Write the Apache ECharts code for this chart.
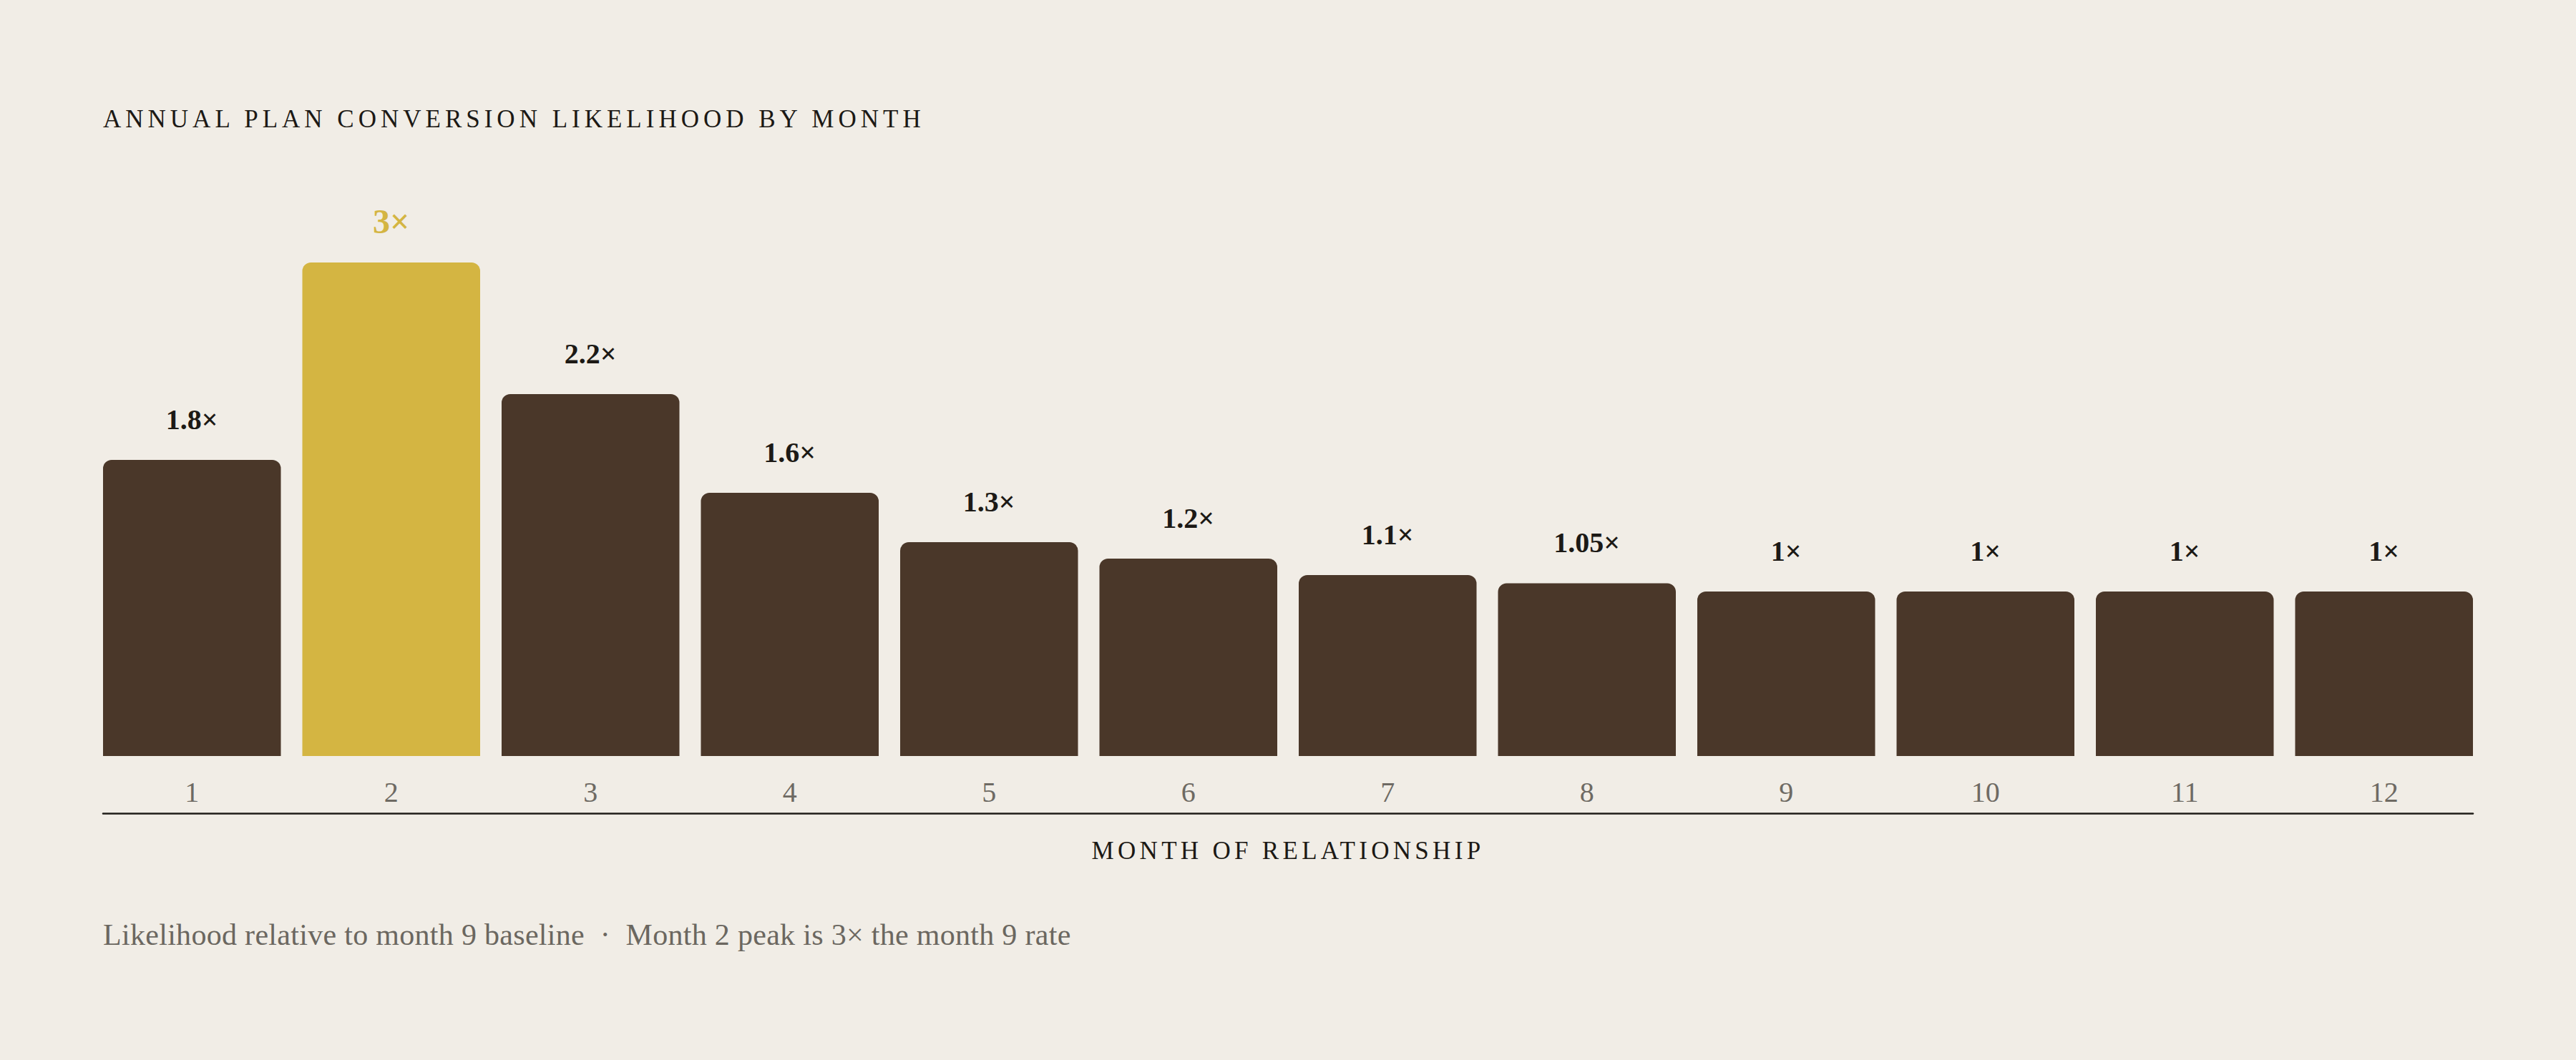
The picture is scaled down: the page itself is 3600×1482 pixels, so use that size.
<!DOCTYPE html>
<html>
<head>
<meta http-equiv="Content-Type" content="text/html; charset=utf8">
<title>Annual plan conversion likelihood</title>
<script src="https://cdn.jsdelivr.net/npm/echarts@6/dist/echarts.min.js"></script>
<style type="text/css">
html,body{
margin:0;
padding:0;
background:#f1ede6;
}
#main{
width:3600px;
height:1482px;
}
</style>
</head>
<body>
<div id="main"></div>
<script>
var months = ['1','2','3','4','5','6','7','8','9','10','11','12'];
var likelihood = [1.8, 3, 2.2, 1.6, 1.3, 1.2, 1.1, 1.05, 1, 1, 1, 1];
var titleText = 'ANNUAL PLAN CONVERSION LIKELIHOOD BY MONTH';
var axisName = 'MONTH OF RELATIONSHIP';
var noteText = 'Likelihood relative to month 9 baseline  \u00b7  Month 2 peak is 3\u00d7 the month 9 rate';

var serif = '"Liberation Serif", "DejaVu Serif", serif';
var dark = '#4a3729'; //普通柱子
var gold = '#d4b542'; //峰值柱子

var peak = likelihood.indexOf(Math.max.apply(null, likelihood));

var barData = likelihood.map(function(v, i){
	if(i !== peak) return v;
	return {
		value:v,
		itemStyle:{color:gold},
		label:{color:gold, fontSize:48, distance:34}
	};
});

var chart = echarts.init(document.getElementById('main'), null, {renderer:'svg'});

var option = {
	backgroundColor:'#f1ede6',
	animation:false,
	title:[{
		text:titleText,
		left:144,
		top:149,
		padding:0,
		textStyle:{color:'#1c1915', fontFamily:serif, fontWeight:'normal', fontSize:35}
	},{
		text:noteText,
		left:144,
		top:1286,
		padding:0,
		textStyle:{color:'#6b6760', fontFamily:serif, fontWeight:'normal', fontSize:42}
	}],
	grid:[
		{left:129, right:129, top:367, bottom:425},
		{left:144, right:144, top:1136, height:1} //只用来画底部的横线
	],
	xAxis:[{
		type:'category',
		gridIndex:0,
		data:months,
		axisLine:{show:false},
		axisTick:{show:false},
		axisLabel:{color:'#6e6a63', fontFamily:serif, fontSize:40, margin:30}
	},{
		type:'category',
		gridIndex:1,
		data:months,
		axisLine:{show:true, lineStyle:{color:'#1f1c18', width:2.5}},
		axisTick:{show:false},
		axisLabel:{show:false},
		name:axisName,
		nameLocation:'middle',
		nameGap:35,
		nameTextStyle:{color:'#1c1915', fontFamily:serif, fontSize:35}
	}],
	yAxis:[
		{type:'value', gridIndex:0, min:0, max:3, show:false},
		{type:'value', gridIndex:1, show:false}
	],
	series:[{
		type:'bar',
		xAxisIndex:0,
		yAxisIndex:0,
		data:barData,
		barCategoryGap:'10.77%',
		itemStyle:{color:dark, borderRadius:[12,12,0,0]},
		label:{
			show:true,
			position:'top',
			distance:37,
			color:'#1c1915',
			fontFamily:serif,
			fontWeight:'bold',
			fontSize:40,
			formatter:function(p){ return p.value + '\u00d7'; }
		}
	}]
};

// 标题和轴名需要字间距，svg 渲染后再补上
chart.on('finished', function(){
	var texts = document.querySelectorAll('#main svg text');
	for(var i = 0; i < texts.length; i++){
		var t = texts[i].textContent;
		if(t === titleText){
			texts[i].setAttribute('letter-spacing', '6px');
		}else if(t === axisName){
			texts[i].setAttribute('letter-spacing', '5.3px');
		}else if(t === noteText){
			texts[i].setAttribute('letter-spacing', '0.3px');
		}
	}
});

chart.setOption(option);
</script>
</body>
</html>
